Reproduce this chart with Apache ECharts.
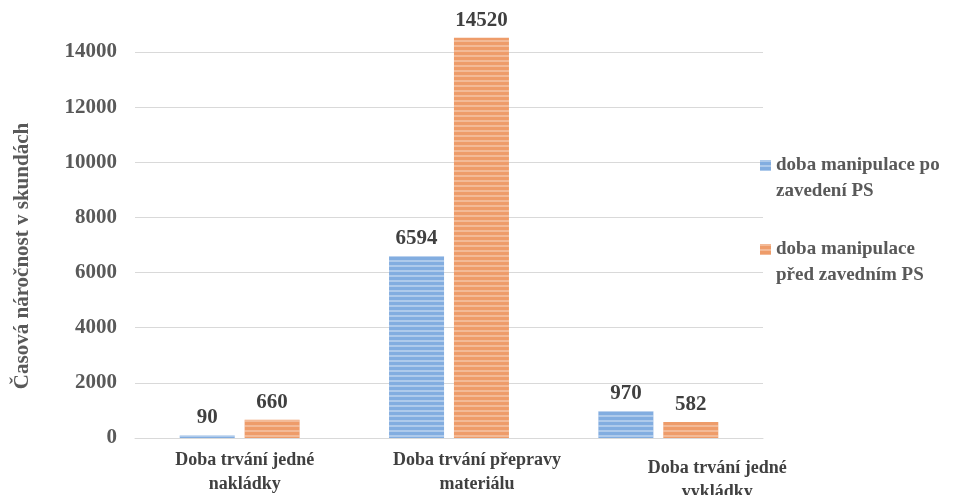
<!DOCTYPE html>
<html>
<head>
<meta charset="utf-8">
<script src="https://cdn.jsdelivr.net/npm/echarts@6/dist/echarts.min.js"></script>
<style>
  html, body { margin: 0; padding: 0; background: #fff; }
  #chart { width: 958px; height: 495px; }
</style>
</head>
<body>
<div id="chart"></div>
<script>
var categories = ['Doba trvání jedné\nnakládky', 'Doba trvání přepravy\nmateriálu', 'Doba trvání jedné\nvykládky'];
var seriesNames = ['doba manipulace po\nzavedení PS', 'doba manipulace\npřed zavedním PS'];
var poValues = [90, 6594, 970];
var predValues = [660, 14520, 582];
var yTicks = [0, 2000, 4000, 6000, 8000, 10000, 12000, 14000];

var serif = '"Liberation Serif", "DejaVu Serif", serif';
// label offsets as in the picture (Excel moved them a bit to the right)
var labelPad = [[0, 0, 0, 10], [0, 0, 0, 56], [8, 0, 0, 118]];

var chart = echarts.init(document.getElementById('chart'), null, { renderer: 'canvas' });

function stripes(base, light) {
  return {
    color: base,
    decal: {
      symbol: 'rect',
      color: light,
      dashArrayX: [1, 0],
      dashArrayY: [2, 3],
      rotation: 0,
      symbolSize: 1
    }
  };
}

var valueLabel = {
  show: true,
  position: 'top',
  distance: 7,
  fontFamily: serif,
  fontWeight: 'bold',
  fontSize: 21,
  color: '#404040'
};

// square on the first line of a two line legend entry
var legendIcon = 'path://M0,0h11v11h-11z M0,35.98h0.02v0.02h-0.02z';

var option = {
  backgroundColor: '#ffffff',
  animation: false,
  grid: { left: 135, right: 195, top: 52, bottom: 57, outerBoundsMode: 'none' },
  legend: {
    orient: 'vertical',
    left: 755,
    top: 147,
    itemWidth: 11,
    itemHeight: 36,
    itemGap: 32,
    icon: legendIcon,
    textStyle: {
      fontFamily: serif,
      fontWeight: 'bold',
      fontSize: 19,
      color: '#595959',
      lineHeight: 26
    },
    data: seriesNames
  },
  xAxis: {
    type: 'category',
    data: categories.map(function (c, i) {
      return { value: c, textStyle: { padding: labelPad[i] } };
    }),
    axisLine: { show: true, lineStyle: { color: '#d9d9d9', width: 1 } },
    axisTick: { show: false },
    axisLabel: {
      interval: 0,
      margin: 10,
      fontFamily: serif,
      fontWeight: 'bold',
      fontSize: 18,
      lineHeight: 24,
      color: '#404040'
    }
  },
  yAxis: {
    type: 'value',
    min: 0,
    max: 14000,
    interval: 2000,
    name: 'Časová náročnost v skundách',
    nameLocation: 'middle',
    nameGap: 102,
    nameTextStyle: {
      fontFamily: serif,
      fontWeight: 'bold',
      fontSize: 21,
      color: '#595959',
      padding: [0, 22, 0, 0]
    },
    axisLine: { show: false },
    axisTick: { show: false },
    splitLine: { lineStyle: { color: '#d9d9d9', width: 1 } },
    axisLabel: {
      margin: 18,
      fontFamily: serif,
      fontWeight: 'bold',
      fontSize: 21,
      color: '#595959',
      formatter: function (v) { return yTicks.indexOf(v) >= 0 ? String(v) : ''; }
    }
  },
  series: [
    {
      name: seriesNames[0],
      type: 'bar',
      data: poValues,
      barWidth: 55,
      barGap: '18%',
      clip: false,
      itemStyle: stripes('#82ade0', 'rgba(255,255,255,0.35)'),
      label: valueLabel
    },
    {
      name: seriesNames[1],
      type: 'bar',
      data: predValues,
      barWidth: 55,
      clip: false,
      itemStyle: stripes('#ee9c6a', 'rgba(255,255,255,0.3)'),
      label: valueLabel
    }
  ]
};

chart.setOption(option);
</script>
</body>
</html>
